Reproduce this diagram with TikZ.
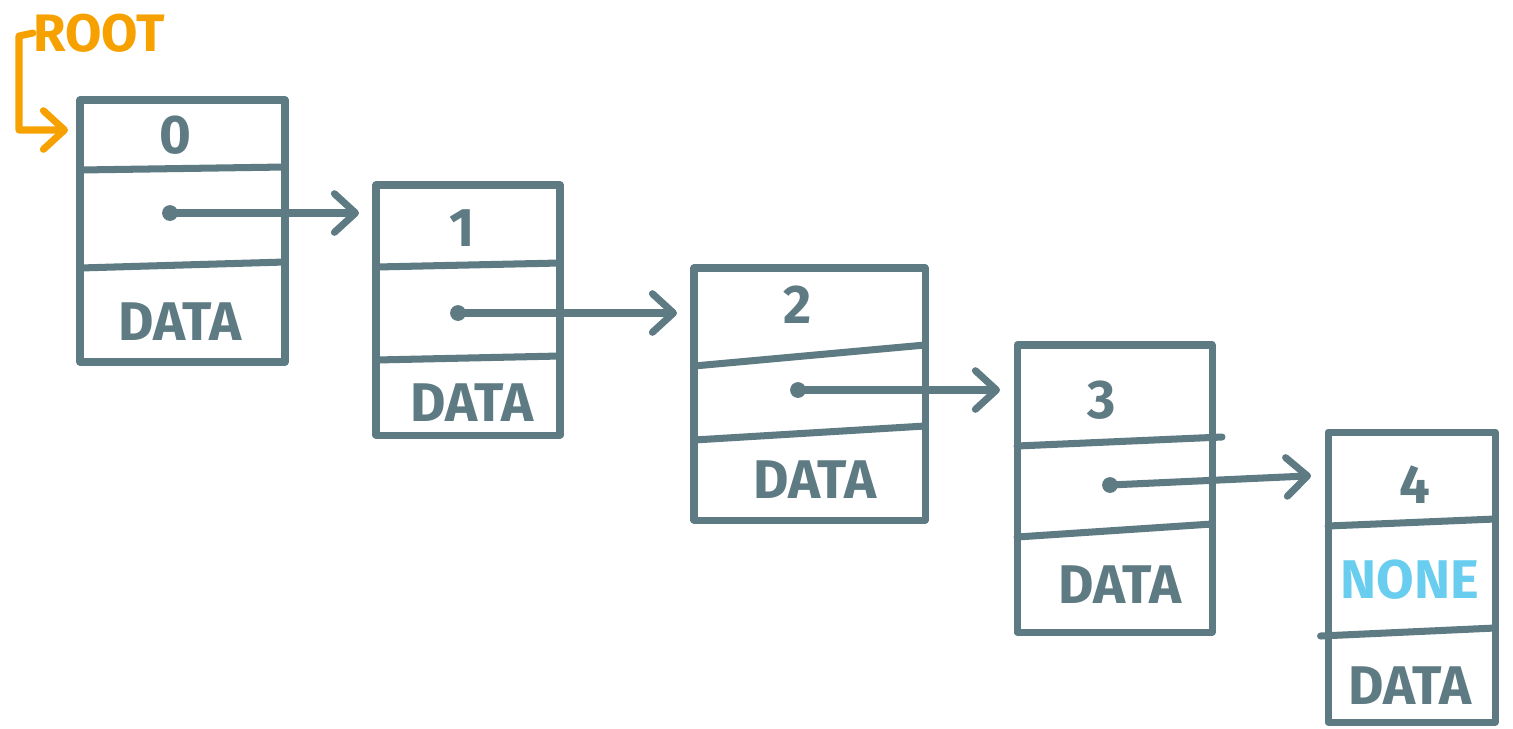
\documentclass[tikz,border=0pt]{standalone}
\usepackage{fontspec}
\setmainfont{Fira Sans}
\usetikzlibrary{arrows.meta,fit}
\definecolor{ink}{HTML}{5E7B83}
\definecolor{rootcol}{HTML}{F7A100}
\definecolor{nonecol}{HTML}{68CDEE}
\begin{document}
\begin{tikzpicture}[x=0.02cm,y=-0.02cm,
  line/.style={draw=ink, line width=4pt, line cap=round, line join=round},
  box/.style={line, rectangle, inner sep=0pt, outer sep=0pt},
  lbl/.style={text=ink, inner sep=0pt, font=\fontsize{31}{33}\selectfont\bfseries},
  ptr/.style={line, -{Straight Barb[length=12pt,width=22pt,round]}, shorten >=0.34cm},
  blob/.style={circle, fill=ink, inner sep=0pt, minimum size=9pt},
  rootline/.style={draw=rootcol, line width=4pt, line cap=round, line join=round,
    -{Straight Barb[length=12pt,width=22pt,round]}, shorten >=0.24cm}]
\useasboundingbox (0,0) rectangle (1513,728);

% node cells
\node[box, fit={(80,100) (285,362)}] (b0) {};
\node[box, fit={(376,185) (560,435)}] (b1) {};
\node[box, fit={(694,268) (925,520)}] (b2) {};
\node[box, fit={(1017,345) (1212,632)}] (b3) {};
\node[box, fit={(1328,432) (1495,722)}] (b4) {};

% dividers
\draw[line] (b0.west |- 0,170) -- (b0.east |- 0,167);
\draw[line] (b0.west |- 0,268) -- (b0.east |- 0,262);
\draw[line] (b1.west |- 0,267) -- (b1.east |- 0,263);
\draw[line] (b1.west |- 0,360) -- (b1.east |- 0,356);
\draw[line] (b2.west |- 0,366) -- (b2.east |- 0,345);
\draw[line] (b2.west |- 0,440) -- (b2.east |- 0,426);
\draw[line] (b3.west |- 0,446) -- ([xshift=0.2cm]b3.east |- 0,437);
\draw[line] (b3.west |- 0,537) -- (b3.east |- 0,524);
\draw[line] (b4.west |- 0,526) -- (b4.east |- 0,519);
\draw[line] ([xshift=-0.15cm]b4.west |- 0,636) -- (b4.east |- 0,628);

% labels
\node[lbl] (k0) at (175,135) {0};
\node[lbl] (k1) at (462,228) {1};
\node[lbl] (k2) at (798,305) {2};
\node[lbl] (k3) at (1102,400) {3};
\node[lbl] (k4) at (1415,485) {4};
\node[lbl] (d0) at (180,322) {DATA};
\node[lbl] (d1) at (472,403) {DATA};
\node[lbl] (d2) at (815,480) {DATA};
\node[lbl] (d3) at (1120,585) {DATA};
\node[lbl] (d4) at (1410,686) {DATA};
\node[lbl, text=nonecol] (none) at (1410,580) {NONE};

% next pointers
\node[blob] (p0) at (170,213) {};
\node[blob] (p1) at (458,313) {};
\node[blob] (p2) at (798,390) {};
\node[blob] (p3) at (1110,485) {};
\draw[ptr] (p0.center) -- (b1.west |- p0.center);
\draw[ptr] (p1.center) -- (b2.west |- p1.center);
\draw[ptr] (p2.center) -- (b3.west |- p2.center);
\draw[ptr] (p3.center) -- (b4.west |- 0,475);

% root reference
\node[inner sep=0pt, text=rootcol, font=\fontsize{30}{32}\selectfont\bfseries] (root) at (99,33) {ROOT};
\coordinate (rc) at (19,36);
\draw[rootline] (root.west) -- (rc) -- (rc |- 0,130) -- (b0.west |- 0,130);
\end{tikzpicture}
\end{document}
